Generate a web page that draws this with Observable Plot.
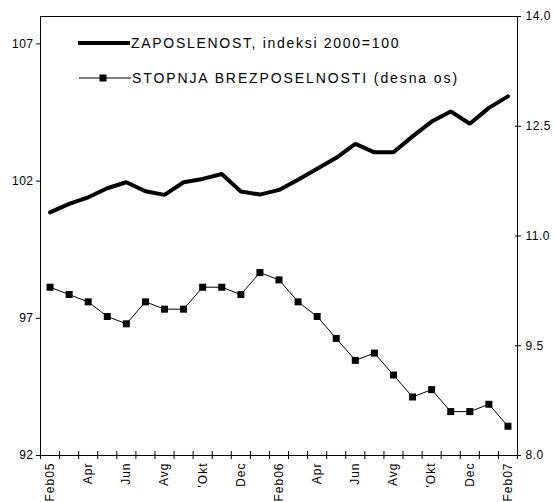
<!DOCTYPE html>
<html><head><meta charset="utf-8">
<script src="https://cdn.jsdelivr.net/npm/d3@7"></script>
<script src="https://cdn.jsdelivr.net/npm/@observablehq/plot@0.6"></script>
<style>
body{margin:0;background:#fff;}
#wrap{position:relative;width:554px;height:502px;font-family:"Liberation Sans",Arial,sans-serif;}
#legend{position:absolute;left:0;top:0;pointer-events:none;}
#legend text{font-family:"Liberation Sans",Arial,sans-serif;font-size:14px;letter-spacing:1.7px;fill:#000;}
#legend text.l2{letter-spacing:1.9px;}
.xlab text{letter-spacing:1px;}
</style></head><body>
<div id="wrap"></div>
<script>
// Months Feb 2005 – Feb 2007 (category labels; only every second one is shown)
const months = ["Feb05","Mar","Apr","Maj","Jun","Jul","Avg","Sep","'Okt","Nov","Dec","Jan",
                "Feb06","Mar","Apr","Maj","Jun","Jul","Avg","Sep","'Okt","Nov","Dec","Jan","Feb07"];
// ZAPOSLENOST, indeksi 2000=100 (left axis)
const employment = [100.86,101.17,101.41,101.74,101.96,101.63,101.50,101.96,102.08,102.26,101.62,101.51,
                    101.68,102.05,102.45,102.85,103.36,103.05,103.05,103.63,104.17,104.54,104.09,104.67,105.09];
// STOPNJA BREZPOSELNOSTI (right axis)
const unemployment = [10.3,10.2,10.1,9.9,9.8,10.1,10.0,10.0,10.3,10.3,10.2,10.5,
                      10.4,10.1,9.9,9.6,9.3,9.4,9.1,8.8,8.9,8.6,8.6,8.7,8.4];
const leftTicks = [92,97,102,107];
const rightTicks = [8.0,9.5,11.0,12.5,14.0];
const leftDomain = [92,108];
const rightDomain = [8,14];

// map right-axis values onto the left scale
const toLeft = v => leftDomain[0] + (v - rightDomain[0]) * (leftDomain[1]-leftDomain[0]) / (rightDomain[1]-rightDomain[0]);
const toRight = y => rightDomain[0] + (y - leftDomain[0]) * (rightDomain[1]-rightDomain[0]) / (leftDomain[1]-leftDomain[0]);

const data = months.map((m,i) => ({i, x: i + 0.5, month: m, emp: employment[i], une: toLeft(unemployment[i])}));
const labelPos = data.filter(d => d.i % 2 === 0).map(d => d.x);
const catEdges = d3.range(0, months.length + 1);

const chart = Plot.plot({
  width: 554, height: 502,
  marginLeft: 40, marginRight: 37, marginTop: 16, marginBottom: 47,
  style: {fontFamily: "'Liberation Sans', Arial, sans-serif", fontSize: "12px", background: "#fff", color: "#000", letterSpacing: "0.5px"},
  x: {domain: [0, months.length], axis: null},
  y: {domain: leftDomain, axis: null},
  marks: [
    Plot.frame({stroke: "#000", strokeWidth: 1}),
    Plot.axisY({anchor: "left", ticks: leftTicks, tickSize: 4, tickPadding: 3, tickFormat: d => String(d), label: null}),
    Plot.axisY({anchor: "right", ticks: rightTicks.map(toLeft), tickSize: 6, dx: -3, text: null, label: null}),
    Plot.axisY({anchor: "right", ticks: rightTicks.map(toLeft), tickSize: 0, tickPadding: 8, tickFormat: d => toRight(d).toFixed(1), label: null}),
    Plot.axisX({anchor: "bottom", ticks: catEdges, tickSize: 8, dy: -4, text: null, label: null}),
    Plot.axisX({anchor: "bottom", ticks: labelPos, tickSize: 0, tickPadding: 7, tickRotate: -90, tickFormat: d => months[Math.floor(d)], label: null, className: "xlab"}),
    Plot.line(data, {x: "x", y: "emp", stroke: "#000", strokeWidth: 4, strokeLinejoin: "miter"}),
    Plot.line(data, {x: "x", y: "une", stroke: "#000", strokeWidth: 1}),
    Plot.dot(data, {x: "x", y: "une", symbol: "square", r: 3.95, fill: "#000"})
  ]
});
const wrap = document.getElementById("wrap");
wrap.appendChild(chart);

// legend (inside the plot area, top-left)
const legend = d3.select(wrap).append("svg").attr("id","legend").attr("width",554).attr("height",502);
legend.append("line").attr("x1",78).attr("x2",130).attr("y1",43).attr("y2",43).attr("stroke","#000").attr("stroke-width",4);
legend.append("text").attr("x",131).attr("y",47.5).text("ZAPOSLENOST, indeksi 2000=100");
legend.append("line").attr("x1",79).attr("x2",131).attr("y1",78).attr("y2",78).attr("stroke","#000").attr("stroke-width",1);
legend.append("rect").attr("x",99.5).attr("y",74.5).attr("width",7).attr("height",7).attr("fill","#000");
legend.append("text").attr("class","l2").attr("x",132).attr("y",82.5).text("STOPNJA BREZPOSELNOSTI (desna os)");
</script>
</body></html>
